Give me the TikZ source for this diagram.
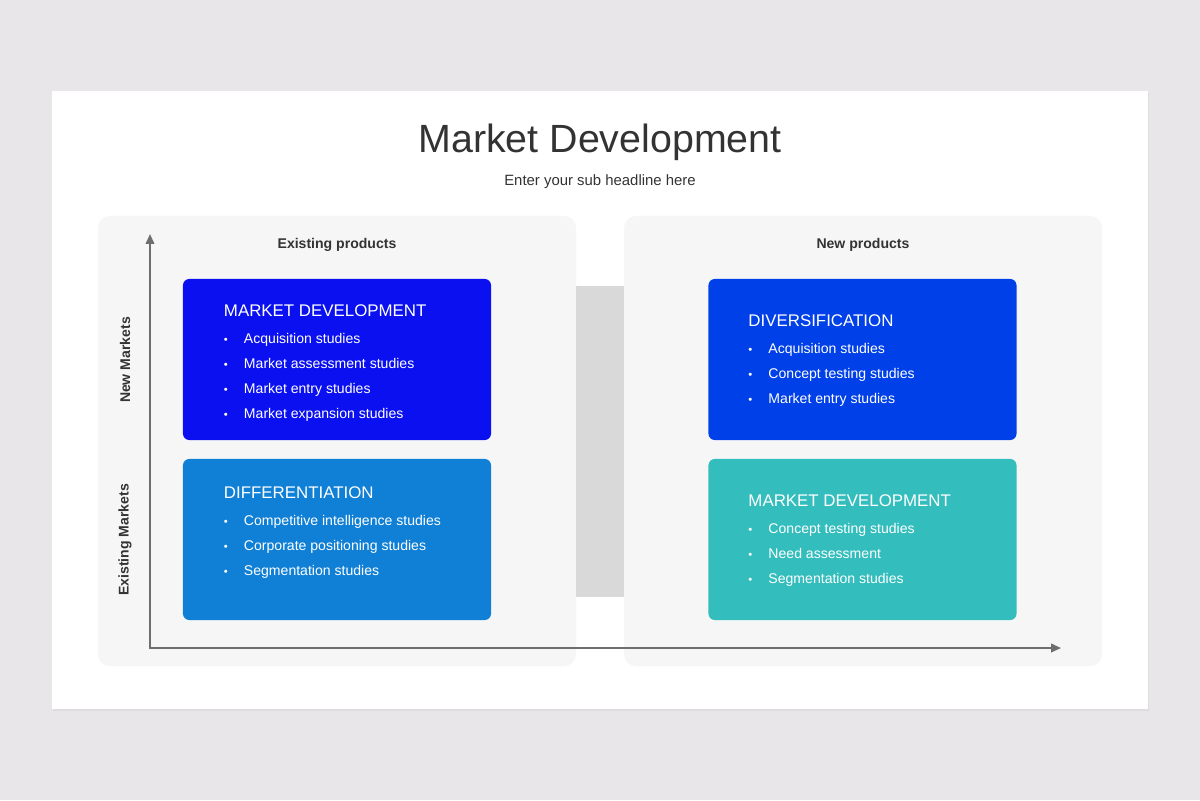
\documentclass[tikz,border=0pt]{standalone}
\usepackage{fontspec}
\setmainfont{Liberation Sans}
\usetikzlibrary{arrows.meta}

\definecolor{pagegray}{HTML}{E8E6E8}
\definecolor{shadowgray}{HTML}{DEDCDE}
\definecolor{panelgray}{HTML}{F6F6F6}
\definecolor{midgray}{HTML}{D9D9D9}
\definecolor{axisgray}{HTML}{6E6E6E}
\definecolor{textdark}{HTML}{333333}
\definecolor{mdblue}{HTML}{0A10F0}
\definecolor{diffblue}{HTML}{1080D6}
\definecolor{divblue}{HTML}{0040E8}
\definecolor{mdteal}{HTML}{33BDBD}

\tikzset{
  panel/.style={fill=panelgray, rounded corners=8.5pt},
  quad/.style={minimum width=7.7cm, minimum height=4.025cm, inner sep=0pt, rounded corners=4.5pt},
  quadtitle/.style={anchor=base west, inner sep=0pt, text=white, font=\fontsize{12}{14}\selectfont},
  quaditem/.style={anchor=base west, inner sep=0pt, text=white, font=\fontsize{10}{12}\selectfont},
  heading/.style={text=textdark, font=\bfseries\fontsize{10}{12}\selectfont},
  axis/.style={axisgray, line width=1.4pt, {Triangle[length=7pt,width=6pt]}-{Triangle[length=7pt,width=6pt]}}
}
\newcommand{\quadbullet}{\makebox[0.5cm][l]{\footnotesize\textbullet}}

\begin{document}
\begin{tikzpicture}[x=0.025cm, y=-0.025cm]
    % page and slide
    \fill[pagegray] (0,0) rectangle (1200,800);
    \useasboundingbox (0,0) rectangle (1200,800);
    \fill[shadowgray] (53,93) rectangle (1149,711);
    \fill[white] (52,91) rectangle (1148,709);

    \node[text=textdark, font=\fontsize{28}{32}\selectfont] (title) at (600,142) {Market Development};
    \node[text=textdark, font=\fontsize{10.6}{12}\selectfont] (subtitle) at (600,182) {Enter your sub headline here};

    % panels
    \fill[panel] (98,216) rectangle (576,666);
    \fill[panel] (624,216) rectangle (1102,666);
    \fill[midgray] (576,286) rectangle (624,597);

    \node[heading] (exprod) at (337,245) {Existing products};
    \node[heading] (newprod) at (863,245) {New products};
    \node[heading, rotate=90] (newmk) at (125,360) {New Markets};
    \node[heading, rotate=90] (exmk) at (125,540) {Existing Markets};

    % axes
    \coordinate (origin) at (150,648);
    \coordinate (ytip) at (150,234);
    \coordinate (xtip) at (1061,648);
    \draw[axis] (ytip) -- (origin) -- (xtip);

    % quadrants
    \node[quad, fill=mdblue] (mdbox) at (337,359.5) {};
    \node[quad, fill=diffblue] (diffbox) at (337,539.5) {};
    \node[quad, fill=divblue] (divbox) at (862.5,359.5) {};
    \node[quad, fill=mdteal] (tealbox) at (862.5,539.5) {};

    \node[quadtitle] (mdtitle) at ([shift={(41,38)}]mdbox.north west) {MARKET DEVELOPMENT};
    \foreach \t [count=\i] in {Acquisition studies, Market assessment studies, Market entry studies, Market expansion studies}
      \node[quaditem] (mditem\i) at ([shift={(41,40+25*\i)}]mdbox.north west) {\quadbullet\t};

    \node[quadtitle] (difftitle) at ([shift={(41,40)}]diffbox.north west) {DIFFERENTIATION};
    \foreach \t [count=\i] in {Competitive intelligence studies, Corporate positioning studies, Segmentation studies}
      \node[quaditem] (diffitem\i) at ([shift={(41,42+25*\i)}]diffbox.north west) {\quadbullet\t};

    \node[quadtitle] (divtitle) at ([shift={(40,48)}]divbox.north west) {DIVERSIFICATION};
    \foreach \t [count=\i] in {Acquisition studies, Concept testing studies, Market entry studies}
      \node[quaditem] (divitem\i) at ([shift={(40,50+25*\i)}]divbox.north west) {\quadbullet\t};

    \node[quadtitle] (tealtitle) at ([shift={(40,48)}]tealbox.north west) {MARKET DEVELOPMENT};
    \foreach \t [count=\i] in {Concept testing studies, Need assessment, Segmentation studies}
      \node[quaditem] (tealitem\i) at ([shift={(40,50+25*\i)}]tealbox.north west) {\quadbullet\t};
\end{tikzpicture}
\end{document}
